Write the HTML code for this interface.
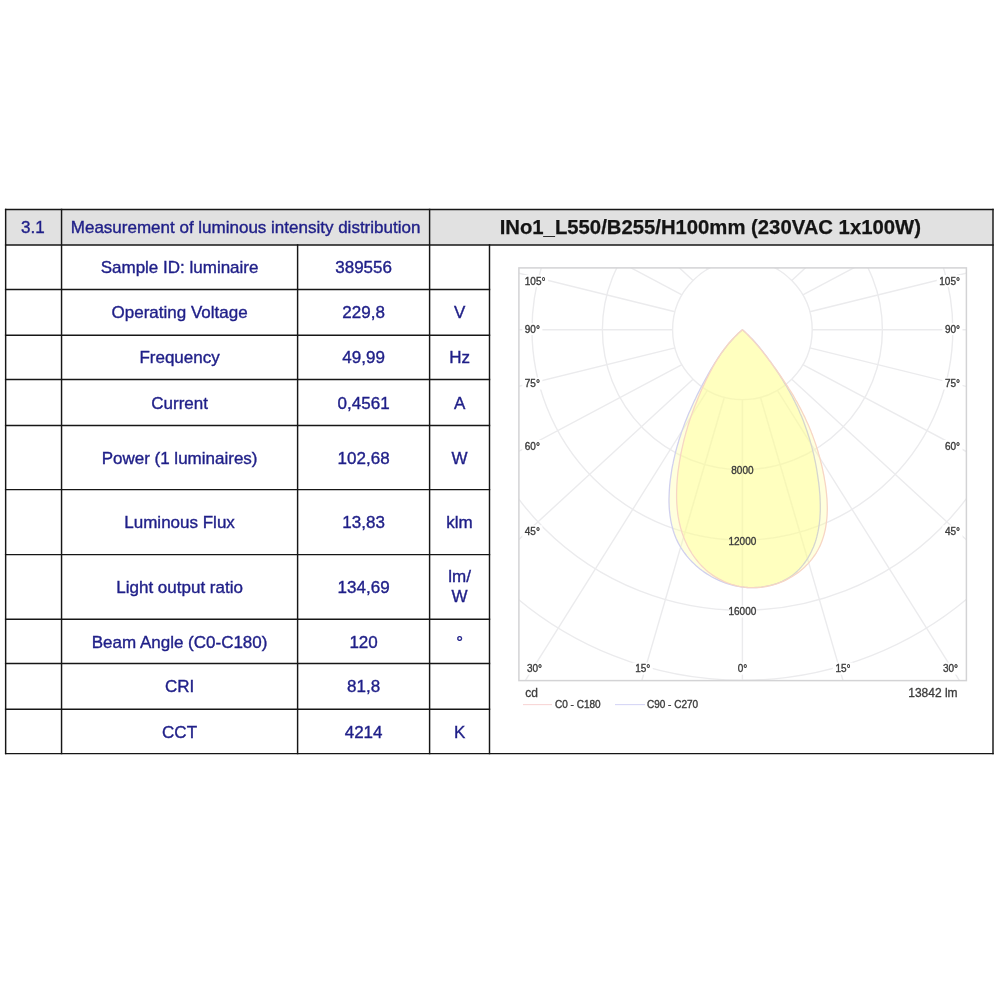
<!DOCTYPE html>
<html><head><meta charset="utf-8"><title>3.1 Measurement of luminous intensity distribution</title>
<style>
html,body{margin:0;padding:0;background:#fff;}
body{width:1000px;height:1000px;overflow:hidden;}
svg{display:block;}
svg text{font-family:"Liberation Sans",sans-serif;}
.b{fill:#1f1f88;font-size:17px;text-anchor:middle;stroke:#1f1f88;stroke-width:0.38px;}
.g{fill:#3c3c3c;font-size:10px;stroke:#3c3c3c;stroke-width:0.35px;}
</style></head><body>
<svg width="1000" height="1000" viewBox="0 0 1000 1000" style="filter:blur(0.45px)">
<rect width="1000" height="1000" fill="#fff"/>
<rect x="5.65" y="209.4" width="987.35" height="35.599999999999994" fill="#e1e1e1"/>
<defs><clipPath id="cp"><rect x="518.9" y="267.9" width="447.5" height="412.70000000000005"/></clipPath></defs>
<g clip-path="url(#cp)" fill="none" stroke="#ebebed" stroke-width="1.4"><circle cx="742.4" cy="329.8" r="69.8"/><circle cx="742.4" cy="329.8" r="140.0"/><circle cx="742.4" cy="329.8" r="210.4"/><circle cx="742.4" cy="329.8" r="280.5"/><circle cx="742.4" cy="329.8" r="350.5"/><circle cx="742.4" cy="329.8" r="420.5"/><line x1="742.40" y1="399.60" x2="742.40" y2="951.60"/><line x1="760.47" y1="397.22" x2="915.76" y2="930.41"/><line x1="777.30" y1="390.25" x2="1077.30" y2="868.29"/><line x1="791.76" y1="379.16" x2="1216.02" y2="769.48"/><line x1="802.85" y1="364.70" x2="1322.46" y2="640.70"/><line x1="809.82" y1="347.87" x2="1389.38" y2="490.73"/><line x1="812.20" y1="329.80" x2="1412.20" y2="329.80"/><line x1="809.82" y1="311.73" x2="1389.38" y2="168.87"/><line x1="802.85" y1="294.90" x2="1322.46" y2="18.90"/><line x1="791.76" y1="280.44" x2="1216.02" y2="-109.88"/><line x1="777.30" y1="269.35" x2="1077.30" y2="-208.69"/><line x1="760.47" y1="262.38" x2="915.76" y2="-270.81"/><line x1="742.40" y1="260.00" x2="742.40" y2="-292.00"/><line x1="724.33" y1="262.38" x2="569.04" y2="-270.81"/><line x1="707.50" y1="269.35" x2="407.50" y2="-208.69"/><line x1="693.04" y1="280.44" x2="268.78" y2="-109.88"/><line x1="681.95" y1="294.90" x2="162.34" y2="18.90"/><line x1="674.98" y1="311.73" x2="95.42" y2="168.87"/><line x1="672.60" y1="329.80" x2="72.60" y2="329.80"/><line x1="674.98" y1="347.87" x2="95.42" y2="490.73"/><line x1="681.95" y1="364.70" x2="162.34" y2="640.70"/><line x1="693.04" y1="379.16" x2="268.78" y2="769.48"/><line x1="707.50" y1="390.25" x2="407.50" y2="868.29"/><line x1="724.33" y1="397.22" x2="569.04" y2="930.41"/></g>
<path d="M742.4,329.8 L744.4,331.5 L746.4,333.4 L748.3,335.2 L750.2,337.1 L752.1,339.0 L753.9,341.0 L755.7,343.0 L757.4,345.0 L759.1,347.0 L760.8,349.1 L762.5,351.2 L764.1,353.3 L765.8,355.4 L767.4,357.6 L769.0,359.8 L770.6,361.9 L772.1,364.2 L773.7,366.4 L775.2,368.6 L776.8,370.9 L778.3,373.1 L779.8,375.4 L781.2,377.7 L782.7,380.0 L784.1,382.4 L785.5,384.7 L786.9,387.0 L788.2,389.4 L789.6,391.7 L790.9,394.1 L792.2,396.5 L793.4,398.9 L794.6,401.3 L795.8,403.7 L797.0,406.1 L798.1,408.5 L799.2,411.0 L800.2,413.4 L801.3,415.8 L802.3,418.3 L803.3,420.7 L804.2,423.2 L805.1,425.7 L806.0,428.2 L806.9,430.7 L807.7,433.2 L808.5,435.7 L809.3,438.2 L810.1,440.7 L810.8,443.3 L811.5,445.8 L812.2,448.4 L812.8,451.0 L813.5,453.6 L814.1,456.2 L814.6,458.8 L815.2,461.4 L815.7,464.0 L816.2,466.7 L816.7,469.3 L817.1,472.0 L817.5,474.7 L817.9,477.4 L818.3,480.1 L818.7,482.8 L819.0,485.5 L819.3,488.3 L819.5,491.0 L819.8,493.8 L820.0,496.5 L820.1,499.3 L820.2,502.0 L820.3,504.8 L820.3,507.5 L820.3,510.3 L820.2,513.0 L820.0,515.7 L819.9,518.4 L819.6,521.1 L819.3,523.8 L818.9,526.4 L818.5,529.1 L818.0,531.7 L817.4,534.3 L816.8,536.9 L816.1,539.4 L815.3,542.0 L814.4,544.5 L813.5,546.9 L812.4,549.3 L811.3,551.7 L810.1,554.1 L808.8,556.4 L807.5,558.7 L806.0,560.9 L804.5,563.0 L802.8,565.1 L801.1,567.1 L799.3,569.1 L797.5,570.9 L795.5,572.7 L793.5,574.4 L791.4,576.0 L789.2,577.5 L786.9,578.9 L784.6,580.1 L782.2,581.3 L779.8,582.4 L777.3,583.4 L774.7,584.2 L772.1,585.0 L769.5,585.7 L766.8,586.2 L764.1,586.7 L761.4,587.1 L758.7,587.4 L756.0,587.5 L753.2,587.6 L750.5,587.6 L747.8,587.5 L745.0,587.3 L742.3,587.0 L739.6,586.6 L736.9,586.1 L734.2,585.5 L731.6,584.9 L729.0,584.1 L726.4,583.3 L723.8,582.4 L721.3,581.4 L718.8,580.3 L716.3,579.2 L713.9,578.0 L711.5,576.7 L709.2,575.3 L706.9,573.9 L704.6,572.4 L702.4,570.8 L700.3,569.2 L698.2,567.5 L696.1,565.7 L694.2,563.9 L692.2,562.0 L690.4,560.1 L688.6,558.1 L686.9,556.1 L685.3,554.0 L683.7,551.9 L682.2,549.7 L680.8,547.5 L679.5,545.2 L678.2,542.9 L677.1,540.6 L676.0,538.2 L675.0,535.7 L674.1,533.3 L673.3,530.8 L672.6,528.3 L671.9,525.7 L671.3,523.1 L670.8,520.5 L670.4,517.9 L670.0,515.3 L669.7,512.6 L669.4,509.9 L669.2,507.2 L669.1,504.5 L669.0,501.8 L669.0,499.1 L669.1,496.3 L669.2,493.6 L669.3,490.9 L669.5,488.1 L669.7,485.4 L670.0,482.6 L670.3,479.9 L670.7,477.2 L671.1,474.4 L671.5,471.7 L671.9,469.0 L672.4,466.4 L673.0,463.7 L673.5,461.0 L674.1,458.4 L674.7,455.8 L675.3,453.1 L676.0,450.5 L676.7,447.9 L677.4,445.4 L678.2,442.8 L678.9,440.2 L679.7,437.7 L680.6,435.2 L681.4,432.6 L682.3,430.1 L683.2,427.6 L684.1,425.1 L685.0,422.6 L686.0,420.2 L687.0,417.7 L688.0,415.2 L689.0,412.8 L690.1,410.4 L691.2,407.9 L692.3,405.5 L693.4,403.1 L694.5,400.6 L695.7,398.2 L696.8,395.8 L698.0,393.4 L699.2,391.0 L700.4,388.6 L701.7,386.3 L702.9,383.9 L704.2,381.5 L705.5,379.1 L706.8,376.8 L708.1,374.4 L709.4,372.0 L710.8,369.7 L712.2,367.4 L713.6,365.0 L715.0,362.7 L716.5,360.5 L717.9,358.2 L719.5,356.0 L721.0,353.7 L722.6,351.5 L724.2,349.4 L725.8,347.3 L727.5,345.2 L729.2,343.1 L731.0,341.1 L732.8,339.1 L734.6,337.1 L736.5,335.2 L738.4,333.3 L740.4,331.5 L742.4,329.8Z" fill="#fff" fill-opacity="0.28"/><path d="M742.4,329.8 L744.4,331.5 L746.4,333.4 L748.3,335.2 L750.1,337.2 L752.0,339.1 L753.8,341.1 L755.5,343.1 L757.3,345.1 L759.0,347.1 L760.7,349.2 L762.4,351.3 L764.0,353.4 L765.6,355.5 L767.3,357.6 L768.9,359.8 L770.5,361.9 L772.1,364.1 L773.7,366.3 L775.3,368.4 L776.9,370.6 L778.4,372.8 L780.0,375.1 L781.5,377.3 L783.0,379.5 L784.5,381.8 L786.0,384.0 L787.5,386.3 L788.9,388.6 L790.4,390.8 L791.8,393.1 L793.2,395.4 L794.5,397.7 L795.8,400.1 L797.2,402.4 L798.4,404.7 L799.7,407.1 L800.9,409.4 L802.1,411.8 L803.3,414.2 L804.5,416.6 L805.6,419.0 L806.7,421.4 L807.8,423.8 L808.9,426.2 L809.9,428.7 L810.9,431.1 L811.8,433.6 L812.8,436.1 L813.7,438.6 L814.6,441.1 L815.5,443.6 L816.3,446.1 L817.1,448.6 L817.9,451.2 L818.6,453.7 L819.4,456.3 L820.1,458.9 L820.7,461.5 L821.4,464.1 L822.0,466.7 L822.6,469.3 L823.1,472.0 L823.7,474.6 L824.2,477.3 L824.6,480.0 L825.1,482.7 L825.5,485.4 L825.9,488.1 L826.2,490.9 L826.5,493.6 L826.7,496.3 L827.0,499.1 L827.1,501.8 L827.2,504.5 L827.3,507.2 L827.3,509.9 L827.2,512.6 L827.1,515.3 L826.9,518.0 L826.6,520.7 L826.3,523.3 L825.9,525.9 L825.5,528.5 L824.9,531.1 L824.3,533.6 L823.6,536.1 L822.8,538.6 L822.0,541.1 L821.0,543.5 L820.0,545.9 L818.8,548.2 L817.6,550.5 L816.3,552.8 L814.9,555.0 L813.3,557.2 L811.7,559.3 L810.0,561.4 L808.3,563.4 L806.4,565.3 L804.5,567.2 L802.5,569.0 L800.4,570.7 L798.3,572.4 L796.1,574.0 L793.8,575.5 L791.5,577.0 L789.1,578.3 L786.7,579.6 L784.2,580.8 L781.7,581.8 L779.2,582.8 L776.6,583.8 L774.0,584.6 L771.4,585.3 L768.7,585.9 L766.1,586.5 L763.4,586.9 L760.7,587.3 L758.0,587.5 L755.3,587.6 L752.7,587.7 L750.0,587.6 L747.3,587.5 L744.6,587.2 L742.0,586.8 L739.4,586.4 L736.8,585.8 L734.2,585.1 L731.6,584.4 L729.1,583.5 L726.6,582.6 L724.2,581.6 L721.8,580.4 L719.4,579.2 L717.1,577.9 L714.8,576.6 L712.6,575.1 L710.4,573.5 L708.3,571.9 L706.2,570.2 L704.3,568.4 L702.3,566.5 L700.5,564.6 L698.7,562.6 L697.0,560.5 L695.3,558.4 L693.7,556.2 L692.2,554.0 L690.8,551.7 L689.4,549.4 L688.1,547.0 L686.9,544.6 L685.8,542.2 L684.7,539.7 L683.7,537.2 L682.8,534.7 L681.9,532.2 L681.2,529.7 L680.4,527.1 L679.8,524.5 L679.2,522.0 L678.7,519.3 L678.2,516.7 L677.8,514.1 L677.5,511.5 L677.2,508.8 L677.0,506.1 L676.8,503.5 L676.7,500.8 L676.6,498.1 L676.6,495.4 L676.6,492.7 L676.7,490.0 L676.8,487.3 L676.9,484.6 L677.1,481.9 L677.3,479.2 L677.5,476.5 L677.8,473.8 L678.1,471.1 L678.5,468.5 L678.9,465.8 L679.3,463.1 L679.7,460.5 L680.2,457.8 L680.6,455.2 L681.2,452.5 L681.7,449.9 L682.3,447.3 L682.9,444.7 L683.5,442.1 L684.1,439.5 L684.8,436.9 L685.5,434.3 L686.2,431.7 L687.0,429.1 L687.7,426.6 L688.5,424.0 L689.3,421.5 L690.2,418.9 L691.0,416.4 L691.9,413.9 L692.8,411.4 L693.8,408.8 L694.7,406.3 L695.7,403.9 L696.7,401.4 L697.7,398.9 L698.7,396.4 L699.8,393.9 L700.8,391.5 L701.9,389.0 L703.0,386.6 L704.2,384.2 L705.3,381.7 L706.5,379.3 L707.7,376.9 L708.9,374.5 L710.1,372.1 L711.4,369.8 L712.6,367.4 L713.9,365.1 L715.3,362.7 L716.6,360.4 L718.1,358.2 L719.5,355.9 L721.0,353.7 L722.5,351.5 L724.0,349.3 L725.7,347.2 L727.3,345.1 L729.0,343.0 L730.8,341.0 L732.6,339.0 L734.4,337.1 L736.3,335.2 L738.3,333.3 L740.3,331.5 L742.4,329.8Z" fill="#fff" fill-opacity="0.28"/>
<path d="M742.4,329.8 L744.4,331.5 L746.4,333.4 L748.3,335.2 L750.2,337.1 L752.1,339.0 L753.9,341.0 L755.7,343.0 L757.4,345.0 L759.1,347.0 L760.8,349.1 L762.5,351.2 L764.1,353.3 L765.8,355.4 L767.4,357.6 L769.0,359.8 L770.6,361.9 L772.1,364.2 L773.7,366.4 L775.2,368.6 L776.8,370.9 L778.3,373.1 L779.8,375.4 L781.2,377.7 L782.7,380.0 L784.1,382.4 L785.5,384.7 L786.9,387.0 L788.2,389.4 L789.6,391.7 L790.9,394.1 L792.2,396.5 L793.4,398.9 L794.6,401.3 L795.8,403.7 L797.0,406.1 L798.1,408.5 L799.2,411.0 L800.2,413.4 L801.3,415.8 L802.3,418.3 L803.3,420.7 L804.2,423.2 L805.1,425.7 L806.0,428.2 L806.9,430.7 L807.7,433.2 L808.5,435.7 L809.3,438.2 L810.1,440.7 L810.8,443.3 L811.5,445.8 L812.2,448.4 L812.8,451.0 L813.5,453.6 L814.1,456.2 L814.6,458.8 L815.2,461.4 L815.7,464.0 L816.2,466.7 L816.7,469.3 L817.1,472.0 L817.5,474.7 L817.9,477.4 L818.3,480.1 L818.7,482.8 L819.0,485.5 L819.3,488.3 L819.5,491.0 L819.8,493.8 L820.0,496.5 L820.1,499.3 L820.2,502.0 L820.3,504.8 L820.3,507.5 L820.3,510.3 L820.2,513.0 L820.0,515.7 L819.9,518.4 L819.6,521.1 L819.3,523.8 L818.9,526.4 L818.5,529.1 L818.0,531.7 L817.4,534.3 L816.8,536.9 L816.1,539.4 L815.3,542.0 L814.4,544.5 L813.5,546.9 L812.4,549.3 L811.3,551.7 L810.1,554.1 L808.8,556.4 L807.5,558.7 L806.0,560.9 L804.5,563.0 L802.8,565.1 L801.1,567.1 L799.3,569.1 L797.5,570.9 L795.5,572.7 L793.5,574.4 L791.4,576.0 L789.2,577.5 L786.9,578.9 L784.6,580.1 L782.2,581.3 L779.8,582.4 L777.3,583.4 L774.7,584.2 L772.1,585.0 L769.5,585.7 L766.8,586.2 L764.1,586.7 L761.4,587.1 L758.7,587.4 L756.0,587.5 L753.2,587.6 L750.5,587.6 L747.8,587.5 L745.0,587.3 L742.3,587.0 L739.6,586.6 L736.9,586.1 L734.2,585.5 L731.6,584.9 L729.0,584.1 L726.4,583.3 L723.8,582.4 L721.3,581.4 L718.8,580.3 L716.3,579.2 L713.9,578.0 L711.5,576.7 L709.2,575.3 L706.9,573.9 L704.6,572.4 L702.4,570.8 L700.3,569.2 L698.2,567.5 L696.1,565.7 L694.2,563.9 L692.2,562.0 L690.4,560.1 L688.6,558.1 L686.9,556.1 L685.3,554.0 L683.7,551.9 L682.2,549.7 L680.8,547.5 L679.5,545.2 L678.2,542.9 L677.1,540.6 L676.0,538.2 L675.0,535.7 L674.1,533.3 L673.3,530.8 L672.6,528.3 L671.9,525.7 L671.3,523.1 L670.8,520.5 L670.4,517.9 L670.0,515.3 L669.7,512.6 L669.4,509.9 L669.2,507.2 L669.1,504.5 L669.0,501.8 L669.0,499.1 L669.1,496.3 L669.2,493.6 L669.3,490.9 L669.5,488.1 L669.7,485.4 L670.0,482.6 L670.3,479.9 L670.7,477.2 L671.1,474.4 L671.5,471.7 L671.9,469.0 L672.4,466.4 L673.0,463.7 L673.5,461.0 L674.1,458.4 L674.7,455.8 L675.3,453.1 L676.0,450.5 L676.7,447.9 L677.4,445.4 L678.2,442.8 L678.9,440.2 L679.7,437.7 L680.6,435.2 L681.4,432.6 L682.3,430.1 L683.2,427.6 L684.1,425.1 L685.0,422.6 L686.0,420.2 L687.0,417.7 L688.0,415.2 L689.0,412.8 L690.1,410.4 L691.2,407.9 L692.3,405.5 L693.4,403.1 L694.5,400.6 L695.7,398.2 L696.8,395.8 L698.0,393.4 L699.2,391.0 L700.4,388.6 L701.7,386.3 L702.9,383.9 L704.2,381.5 L705.5,379.1 L706.8,376.8 L708.1,374.4 L709.4,372.0 L710.8,369.7 L712.2,367.4 L713.6,365.0 L715.0,362.7 L716.5,360.5 L717.9,358.2 L719.5,356.0 L721.0,353.7 L722.6,351.5 L724.2,349.4 L725.8,347.3 L727.5,345.2 L729.2,343.1 L731.0,341.1 L732.8,339.1 L734.6,337.1 L736.5,335.2 L738.4,333.3 L740.4,331.5 L742.4,329.8Z" fill="#ffff00" fill-opacity="0.134" stroke="#d0d0ee" stroke-width="1.3" stroke-linejoin="round"/>
<path d="M742.4,329.8 L744.4,331.5 L746.4,333.4 L748.3,335.2 L750.1,337.2 L752.0,339.1 L753.8,341.1 L755.5,343.1 L757.3,345.1 L759.0,347.1 L760.7,349.2 L762.4,351.3 L764.0,353.4 L765.6,355.5 L767.3,357.6 L768.9,359.8 L770.5,361.9 L772.1,364.1 L773.7,366.3 L775.3,368.4 L776.9,370.6 L778.4,372.8 L780.0,375.1 L781.5,377.3 L783.0,379.5 L784.5,381.8 L786.0,384.0 L787.5,386.3 L788.9,388.6 L790.4,390.8 L791.8,393.1 L793.2,395.4 L794.5,397.7 L795.8,400.1 L797.2,402.4 L798.4,404.7 L799.7,407.1 L800.9,409.4 L802.1,411.8 L803.3,414.2 L804.5,416.6 L805.6,419.0 L806.7,421.4 L807.8,423.8 L808.9,426.2 L809.9,428.7 L810.9,431.1 L811.8,433.6 L812.8,436.1 L813.7,438.6 L814.6,441.1 L815.5,443.6 L816.3,446.1 L817.1,448.6 L817.9,451.2 L818.6,453.7 L819.4,456.3 L820.1,458.9 L820.7,461.5 L821.4,464.1 L822.0,466.7 L822.6,469.3 L823.1,472.0 L823.7,474.6 L824.2,477.3 L824.6,480.0 L825.1,482.7 L825.5,485.4 L825.9,488.1 L826.2,490.9 L826.5,493.6 L826.7,496.3 L827.0,499.1 L827.1,501.8 L827.2,504.5 L827.3,507.2 L827.3,509.9 L827.2,512.6 L827.1,515.3 L826.9,518.0 L826.6,520.7 L826.3,523.3 L825.9,525.9 L825.5,528.5 L824.9,531.1 L824.3,533.6 L823.6,536.1 L822.8,538.6 L822.0,541.1 L821.0,543.5 L820.0,545.9 L818.8,548.2 L817.6,550.5 L816.3,552.8 L814.9,555.0 L813.3,557.2 L811.7,559.3 L810.0,561.4 L808.3,563.4 L806.4,565.3 L804.5,567.2 L802.5,569.0 L800.4,570.7 L798.3,572.4 L796.1,574.0 L793.8,575.5 L791.5,577.0 L789.1,578.3 L786.7,579.6 L784.2,580.8 L781.7,581.8 L779.2,582.8 L776.6,583.8 L774.0,584.6 L771.4,585.3 L768.7,585.9 L766.1,586.5 L763.4,586.9 L760.7,587.3 L758.0,587.5 L755.3,587.6 L752.7,587.7 L750.0,587.6 L747.3,587.5 L744.6,587.2 L742.0,586.8 L739.4,586.4 L736.8,585.8 L734.2,585.1 L731.6,584.4 L729.1,583.5 L726.6,582.6 L724.2,581.6 L721.8,580.4 L719.4,579.2 L717.1,577.9 L714.8,576.6 L712.6,575.1 L710.4,573.5 L708.3,571.9 L706.2,570.2 L704.3,568.4 L702.3,566.5 L700.5,564.6 L698.7,562.6 L697.0,560.5 L695.3,558.4 L693.7,556.2 L692.2,554.0 L690.8,551.7 L689.4,549.4 L688.1,547.0 L686.9,544.6 L685.8,542.2 L684.7,539.7 L683.7,537.2 L682.8,534.7 L681.9,532.2 L681.2,529.7 L680.4,527.1 L679.8,524.5 L679.2,522.0 L678.7,519.3 L678.2,516.7 L677.8,514.1 L677.5,511.5 L677.2,508.8 L677.0,506.1 L676.8,503.5 L676.7,500.8 L676.6,498.1 L676.6,495.4 L676.6,492.7 L676.7,490.0 L676.8,487.3 L676.9,484.6 L677.1,481.9 L677.3,479.2 L677.5,476.5 L677.8,473.8 L678.1,471.1 L678.5,468.5 L678.9,465.8 L679.3,463.1 L679.7,460.5 L680.2,457.8 L680.6,455.2 L681.2,452.5 L681.7,449.9 L682.3,447.3 L682.9,444.7 L683.5,442.1 L684.1,439.5 L684.8,436.9 L685.5,434.3 L686.2,431.7 L687.0,429.1 L687.7,426.6 L688.5,424.0 L689.3,421.5 L690.2,418.9 L691.0,416.4 L691.9,413.9 L692.8,411.4 L693.8,408.8 L694.7,406.3 L695.7,403.9 L696.7,401.4 L697.7,398.9 L698.7,396.4 L699.8,393.9 L700.8,391.5 L701.9,389.0 L703.0,386.6 L704.2,384.2 L705.3,381.7 L706.5,379.3 L707.7,376.9 L708.9,374.5 L710.1,372.1 L711.4,369.8 L712.6,367.4 L713.9,365.1 L715.3,362.7 L716.6,360.4 L718.1,358.2 L719.5,355.9 L721.0,353.7 L722.5,351.5 L724.0,349.3 L725.7,347.2 L727.3,345.1 L729.0,343.0 L730.8,341.0 L732.6,339.0 L734.4,337.1 L736.3,335.2 L738.3,333.3 L740.3,331.5 L742.4,329.8Z" fill="#ffff00" fill-opacity="0.134" stroke="#f7d6c4" stroke-width="1.3" stroke-linejoin="round"/>
<rect x="518.9" y="267.9" width="447.5" height="412.70000000000005" fill="none" stroke="#d3d3d5" stroke-width="1.5"/>
<rect x="522.3" y="275.0" width="25.7" height="12" fill="#fff"/>
<text class="g" x="524.8" y="284.55" text-anchor="start">105°</text>
<rect x="936.8" y="275.0" width="25.7" height="12" fill="#fff"/>
<text class="g" x="960" y="284.55" text-anchor="end">105°</text>
<rect x="522.3" y="323.0" width="20.1" height="12" fill="#fff"/>
<text class="g" x="524.8" y="332.55" text-anchor="start">90°</text>
<rect x="942.4" y="323.0" width="20.1" height="12" fill="#fff"/>
<text class="g" x="960" y="332.55" text-anchor="end">90°</text>
<rect x="522.3" y="377.5" width="20.1" height="12" fill="#fff"/>
<text class="g" x="524.8" y="387.05" text-anchor="start">75°</text>
<rect x="942.4" y="377.5" width="20.1" height="12" fill="#fff"/>
<text class="g" x="960" y="387.05" text-anchor="end">75°</text>
<rect x="522.3" y="440.0" width="20.1" height="12" fill="#fff"/>
<text class="g" x="524.8" y="449.55" text-anchor="start">60°</text>
<rect x="942.4" y="440.0" width="20.1" height="12" fill="#fff"/>
<text class="g" x="960" y="449.55" text-anchor="end">60°</text>
<rect x="522.3" y="525.3" width="20.1" height="12" fill="#fff"/>
<text class="g" x="524.8" y="534.8499999999999" text-anchor="start">45°</text>
<rect x="942.4" y="525.3" width="20.1" height="12" fill="#fff"/>
<text class="g" x="960" y="534.8499999999999" text-anchor="end">45°</text>
<rect x="524.5" y="662.6" width="20.1" height="12" fill="#fff"/>
<text class="g" x="527" y="672.15" text-anchor="start">30°</text>
<rect x="940.4" y="662.6" width="20.1" height="12" fill="#fff"/>
<text class="g" x="958" y="672.15" text-anchor="end">30°</text>
<rect x="632.6" y="662.6" width="20.1" height="12" fill="#fff"/>
<text class="g" x="642.7" y="672.15" text-anchor="middle">15°</text>
<rect x="832.9" y="662.6" width="20.1" height="12" fill="#fff"/>
<text class="g" x="843" y="672.15" text-anchor="middle">15°</text>
<rect x="735.3" y="662.6" width="14.6" height="12" fill="#fff"/>
<text class="g" x="742.6" y="672.15" text-anchor="middle">0°</text>
<text class="g" x="742.4" y="474.35" text-anchor="middle">8000</text>
<text class="g" x="742.4" y="544.9499999999999" text-anchor="middle">12000</text>
<rect x="729.3" y="605.5" width="26.2" height="12" fill="#fff"/>
<text class="g" x="742.4" y="615.05" text-anchor="middle">16000</text>
<text x="525.3" y="697" font-size="12" fill="#3c3c3c" stroke="#3c3c3c" stroke-width="0.3">cd</text>
<text x="957.6" y="697" font-size="12" fill="#3c3c3c" stroke="#3c3c3c" stroke-width="0.3" text-anchor="end">13842 lm</text>
<line x1="523" y1="704.6" x2="552" y2="704.6" stroke="#f8d6d6" stroke-width="1.1"/>
<text class="g" x="555" y="708.2">C0 - C180</text>
<line x1="615" y1="704.6" x2="645" y2="704.6" stroke="#d6d6f6" stroke-width="1.1"/>
<text class="g" x="647" y="708.2">C90 - C270</text>
<g stroke="#161616" stroke-width="1.45" stroke-linecap="square">
<line x1="5.65" y1="209.4" x2="993.0" y2="209.4"/>
<line x1="5.65" y1="245.0" x2="993.0" y2="245.0"/>
<line x1="5.65" y1="753.6" x2="993.0" y2="753.6"/>
<line x1="5.65" y1="289.4" x2="489.5" y2="289.4"/>
<line x1="5.65" y1="335.2" x2="489.5" y2="335.2"/>
<line x1="5.65" y1="379.4" x2="489.5" y2="379.4"/>
<line x1="5.65" y1="425.4" x2="489.5" y2="425.4"/>
<line x1="5.65" y1="489.6" x2="489.5" y2="489.6"/>
<line x1="5.65" y1="554.6" x2="489.5" y2="554.6"/>
<line x1="5.65" y1="619.2" x2="489.5" y2="619.2"/>
<line x1="5.65" y1="663.5" x2="489.5" y2="663.5"/>
<line x1="5.65" y1="709.2" x2="489.5" y2="709.2"/>
<line x1="5.65" y1="209.4" x2="5.65" y2="753.6"/>
<line x1="61.55" y1="209.4" x2="61.55" y2="753.6"/>
<line x1="429.6" y1="209.4" x2="429.6" y2="753.6"/>
<line x1="993.0" y1="209.4" x2="993.0" y2="753.6"/>
<line x1="297.6" y1="245.0" x2="297.6" y2="753.6"/>
<line x1="489.5" y1="245.0" x2="489.5" y2="753.6"/>
</g>
<text class="b" x="32.90" y="233.00" >3.1</text>
<text class="b" x="245.58" y="233.00" >Measurement of luminous intensity distribution</text>
<text x="710.30" y="234.0" text-anchor="middle" font-size="20.3" font-weight="bold" fill="#141414" stroke="#141414" stroke-width="0.25">INo1_L550/B255/H100mm (230VAC 1x100W)</text>
<text class="b" x="179.58" y="273.40" >Sample ID: luminaire</text>
<text class="b" x="363.60" y="273.40" >389556</text>
<text class="b" x="179.58" y="317.80" >Operating Voltage</text>
<text class="b" x="363.60" y="317.80" >229,8</text>
<text class="b" x="459.55" y="317.80" >V</text>
<text class="b" x="179.58" y="363.40" >Frequency</text>
<text class="b" x="363.60" y="363.40" >49,99</text>
<text class="b" x="459.55" y="363.40" >Hz</text>
<text class="b" x="179.58" y="409.40" >Current</text>
<text class="b" x="363.60" y="409.40" >0,4561</text>
<text class="b" x="459.55" y="409.40" >A</text>
<text class="b" x="179.58" y="463.60" >Power (1 luminaires)</text>
<text class="b" x="363.60" y="463.60" >102,68</text>
<text class="b" x="459.55" y="463.60" >W</text>
<text class="b" x="179.58" y="528.40" >Luminous Flux</text>
<text class="b" x="363.60" y="528.40" >13,83</text>
<text class="b" x="459.55" y="528.40" >klm</text>
<text class="b" x="179.58" y="593.00" >Light output ratio</text>
<text class="b" x="363.60" y="593.00" >134,69</text>
<text class="b" x="459.55" y="582.40" >lm/</text>
<text class="b" x="459.55" y="601.60" >W</text>
<text class="b" x="179.58" y="647.60" >Beam Angle (C0-C180)</text>
<text class="b" x="363.60" y="647.60" >120</text>
<text class="b" x="459.55" y="647.60" >°</text>
<text class="b" x="179.58" y="692.00" >CRI</text>
<text class="b" x="363.60" y="692.00" >81,8</text>
<text class="b" x="179.58" y="737.60" >CCT</text>
<text class="b" x="363.60" y="737.60" >4214</text>
<text class="b" x="459.55" y="737.60" >K</text>
</svg></body></html>
